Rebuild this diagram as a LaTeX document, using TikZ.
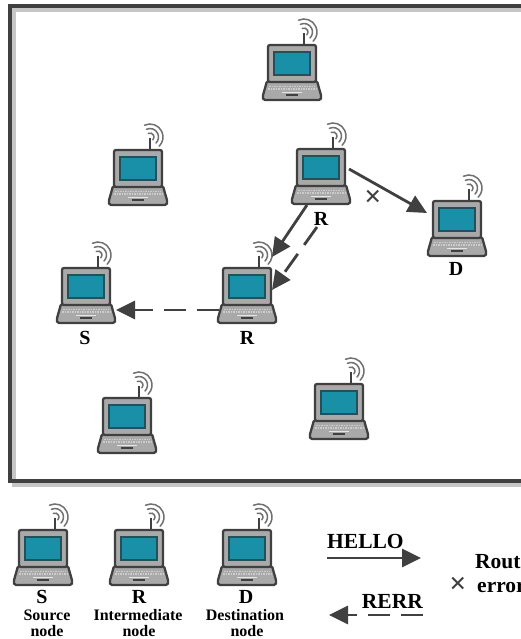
\documentclass[tikz,border=0pt]{standalone}
\usepackage{fontspec}
\setmainfont{Liberation Serif}
\usetikzlibrary{arrows.meta,calc}
\definecolor{ink}{HTML}{404040}
\definecolor{lidgray}{HTML}{A9A9A9}
\definecolor{screenblue}{HTML}{1A8FA8}
\definecolor{screenedge}{HTML}{24505C}
\tikzset{
  x=1pt,y=-1pt,
  lapbox/.style={minimum width=60pt,minimum height=56pt,inner sep=0pt,outer sep=0pt},
  link/.style={draw=ink,line width=2.8pt,-{Triangle[length=19pt,width=18pt]}},
  dashlink/.style={link,dash pattern=on 22pt off 11pt},
  cross/.style={inner sep=0pt,font=\bfseries\fontsize{30}{30}\selectfont,text=ink},
  big/.style={inner sep=0pt,font=\bfseries\fontsize{20}{20}\selectfont},
  small/.style={inner sep=0pt,font=\bfseries\fontsize{16}{16}\selectfont},
  msg/.style={inner sep=0pt,font=\bfseries\fontsize{21.5}{21.5}\selectfont},
  laptop/.pic={
    \draw[ink,line width=2.6pt] (12,-56) -- (12,-67);
    \foreach \r in {4,8.5,13}
      \draw[ink!75,line width=1.5pt,line cap=round] ($(12,-68)+(115:\r pt)$)
        arc[start angle=115,end angle=-45,radius=\r pt];
    \draw[ink,line width=2.3pt,line join=round,fill=lidgray,rounded corners=1.5pt]
      (-25,-19) -- (-29.5,-3) -- (-28.5,0) -- (28.5,0) -- (29.5,-3) -- (25,-19) -- cycle;
    \draw[ink,line width=2.3pt,fill=lidgray,rounded corners=2pt] (-24,-18) rectangle (24,-55);
    \draw[screenedge,line width=1.3pt,fill=screenblue] (-18,-25) rectangle (18,-48);
    \draw[white!80!black,line width=1.2pt,dash pattern=on 1.5pt off 1pt] (-23,-13.5) -- (23,-13.5);
    \draw[white!80!black,line width=1.2pt,dash pattern=on 1.5pt off 1pt] (-24,-11) -- (24,-11);
    \draw[white!90!black,line width=.9pt] (-10,-7.5) -- (10,-7.5);
    \draw[ink,line width=1.6pt] (-6,-5) -- (6,-5);
  }
}
\newcommand{\lap}[3]{%
  \pic at (#2,#3) {laptop};
  \node[lapbox] (#1) at (#2,#3-28) {};
}
\begin{document}
\begin{tikzpicture}
\useasboundingbox (0,0) rectangle (521,639);
\clip (0,0) rectangle (521,639);
\fill[white] (0,0) rectangle (521,639);
% frame
\draw[gray!45,line width=4pt] (14,10) rectangle (534,485);
\draw[ink,line width=4pt] (10,6) rectangle (530,481);
% laptops
\lap{ltop}{292}{100}
\lap{lnw}{138}{205}
\lap{lr}{321}{204}
\lap{ld}{457}{256}
\lap{ls}{86}{323}
\lap{lm}{247}{323}
\lap{lsw}{127}{453}
\lap{lse}{339}{439}
\lap{ks}{43}{585}
\lap{kr}{139}{585}
\lap{kd}{247}{585}
% labels
\node[big] (tr) at (321,219) {R};
\node[big] (td) at (456,269) {D};
\node[big] (ts) at (85,338) {S};
\node[big] (tm) at (247,338) {R};
\node[big] (ta) at (42,597) {S};
\node[big] (tb) at (139,597) {R};
\node[big] (tc) at (246,597) {D};
\node[small] (a1) at (47,615) {Source};
\node[small] (a2) at (47,631) {node};
\node[small] (b1) at (138,615) {Intermediate};
\node[small] (b2) at (139,631) {node};
\node[small] (c1) at (245,615) {Destination};
\node[small] (c2) at (247,631) {node};
\node[msg,anchor=west] (hello) at (327,541) {HELLO};
\node[msg,anchor=east] (rerr) at (423,601) {RERR};
\node[msg,anchor=west] (route) at (475,562) {Route};
\node[msg,anchor=west] (err) at (477,588) {error};
% crosses
\node[cross] (x1) at (373,198) {×};
\node[cross] (x2) at (458,585) {×};
% connectors
\draw[link] ($(lr.center)+(28,-7)$) -- ($(ld.center)+(-30,-15)$);
\draw[link] ($(lr.center)+(-14,29)$) -- ($(lm.center)+(25,-38)$);
\draw[dashlink] ($(lr.center)+(-4,51)$) -- ($(lm.center)+(25,-5)$);
\draw[dashlink] ($(lm.center)+(-28,15)$) -- ($(ls.center)+(30,15)$);
% legend arrows
\coordinate (h0) at ($(hello.west)+(0,17)$);
\coordinate (h1) at ($(h0)+(94,0)$);
\draw[link] (h0) -- (h1);
\coordinate (r0) at ($(rerr.east)+(0,14)$);
\coordinate (r1) at ($(r0)+(-94,0)$);
\draw[dashlink] (r0) -- (r1);
\end{tikzpicture}
\end{document}
